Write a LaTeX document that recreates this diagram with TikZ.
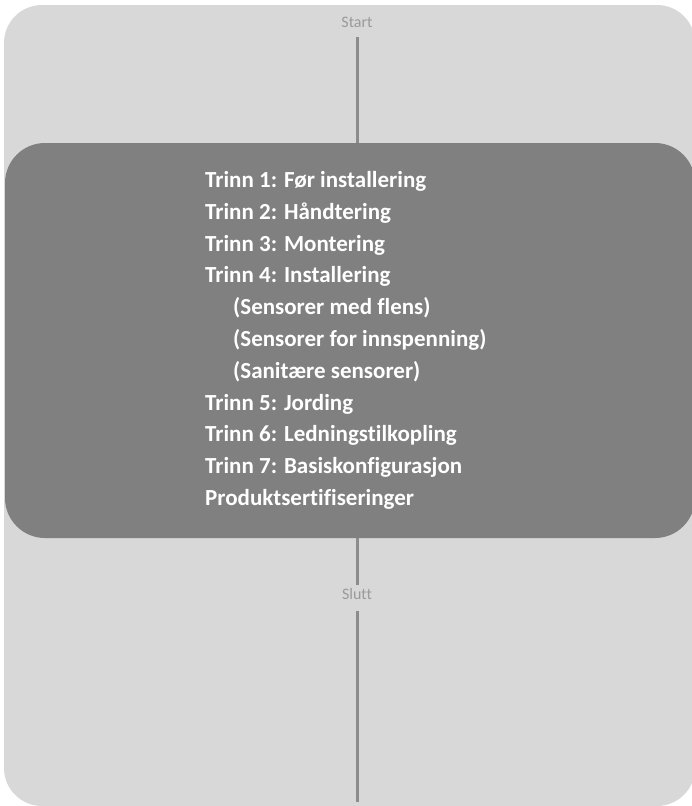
\documentclass[tikz,border=0pt]{standalone}
\usepackage{fontspec}
\setmainfont{Carlito}[Ligatures={NoCommon}]
\definecolor{outerbg}{HTML}{D8D8D8}
\definecolor{darkbg}{HTML}{808080}
\definecolor{conncol}{HTML}{8C8C8C}
\definecolor{lblcol}{HTML}{9A9A9A}
\begin{document}
\begin{tikzpicture}[x=1pt,y=-1pt,
  darkbox/.style={fill=darkbg, rounded corners=40pt, minimum width=690pt, minimum height=395pt, inner sep=0pt},
  stepline/.style={anchor=base west, inner sep=0pt, text=white, font=\fontsize{23}{28}\selectfont\bfseries},
  lbl/.style={anchor=base, inner sep=0pt, text=lblcol, font=\fontsize{16}{19}\selectfont},
  conn/.style={draw=conncol, line width=3pt}]
\useasboundingbox (0,0) rectangle (692,806);
\fill[outerbg, rounded corners=38pt] (4,5) rectangle (695,806);
\node[darkbox] (box) at (350,340.5) {};
\node[stepline] (s1) at (205,187.5) {Trinn 1: Før installering};
\node[stepline] (s2) at (205,219.3) {Trinn 2: Håndtering};
\node[stepline] (s3) at (205,251.1) {Trinn 3: Montering};
\node[stepline] (s4) at (205,282.9) {Trinn 4: Installering};
\node[stepline] (s4a) at (233,314.7) {(Sensorer med flens)};
\node[stepline] (s4b) at (233,346.5) {(Sensorer for innspenning)};
\node[stepline] (s4c) at (233,378.3) {(Sanitære sensorer)};
\node[stepline] (s5) at (205,410.1) {Trinn 5: Jording};
\node[stepline] (s6) at (205,441.9) {Trinn 6: Ledningstilkopling};
\node[stepline] (s7) at (205,473.7) {Trinn 7: Basiskonfigurasjon};
\node[stepline] (s8) at (205,505.5) {Produktsertifiseringer};
\node[lbl] (start) at (357,27) {Start};
\node[lbl] (slutt) at (357,599) {Slutt};
\coordinate (endc) at (357,802);
\draw[conn] ([yshift=-10pt]start.south) -- (start.south |- box.north);
\draw[conn] (start.south |- box.south) -- ([yshift=3pt]slutt.north);
\draw[conn] ([yshift=-12pt]slutt.south) -- (endc);
\end{tikzpicture}
\end{document}
